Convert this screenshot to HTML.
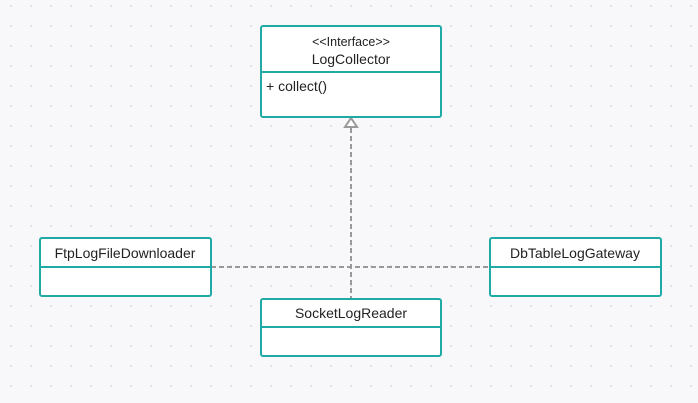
<!DOCTYPE html>
<html><head><style>
body{margin:0;width:698px;height:403px;overflow:hidden;background:#f8f8fa;font-family:"Liberation Sans",sans-serif;}
</style></head><body>
<svg width="698" height="403" xmlns="http://www.w3.org/2000/svg" style="display:block">
<defs><pattern id="d" width="20" height="20" patternUnits="userSpaceOnUse" x="10" y="5"><circle cx="1" cy="1" r="1" fill="#dcdce0"/></pattern></defs>
<rect width="698" height="403" fill="#f8f8fa"/>
<rect width="698" height="403" fill="url(#d)"/>
<g stroke="#999" stroke-width="2" stroke-dasharray="5,3" fill="none">
<line x1="211" y1="267" x2="490" y2="267"/>
<line x1="351" y1="128" x2="351" y2="299"/>
</g>
<polygon points="351,118 345,127 357,127" fill="#fff" stroke="#999" stroke-width="2"/>
<g fill="#fff" stroke="#20aaa5" stroke-width="2">
<rect x="261" y="26" width="180" height="91" rx="2"/>
<line x1="261" y1="72" x2="441" y2="72"/>
<rect x="40" y="238" width="171" height="58" rx="2"/>
<line x1="40" y1="267" x2="211" y2="267"/>
<rect x="490" y="238" width="171" height="58" rx="2"/>
<line x1="490" y1="267" x2="661" y2="267"/>
<rect x="261" y="299" width="180" height="57" rx="2"/>
<line x1="261" y1="327" x2="441" y2="327"/>
</g>
<g font-family="Liberation Sans, sans-serif" font-size="14" fill="#222">
<text x="351" y="46" text-anchor="middle" font-size="12.5">&lt;&lt;Interface&gt;&gt;</text>
<text x="351" y="64" text-anchor="middle">LogCollector</text>
<text x="266" y="91">+ collect()</text>
<text x="125" y="258" text-anchor="middle">FtpLogFileDownloader</text>
<text x="575" y="258" text-anchor="middle">DbTableLogGateway</text>
<text x="351" y="318" text-anchor="middle">SocketLogReader</text>
</g>
</svg>
</body></html>
